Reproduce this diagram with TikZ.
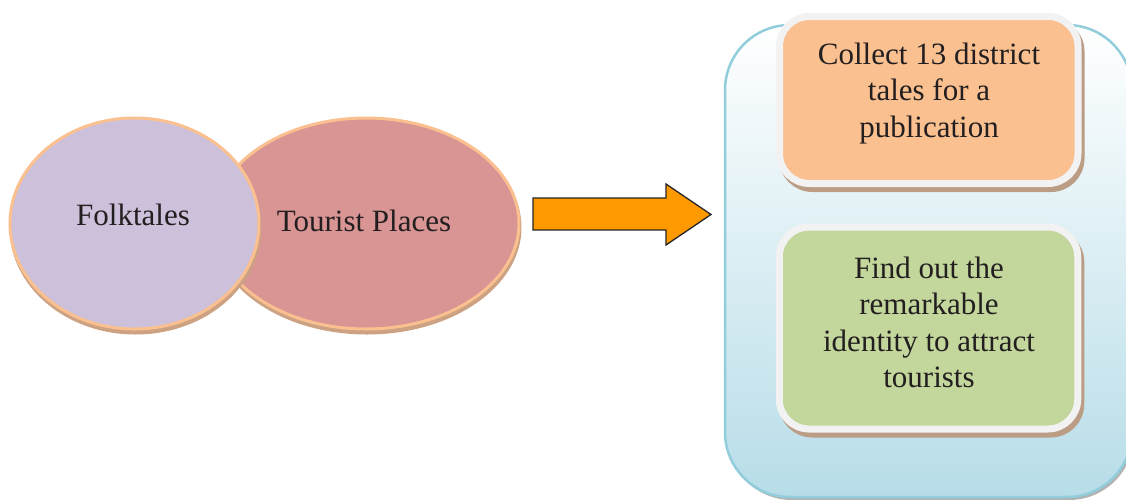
\documentclass[tikz,border=0pt]{standalone}
\usepackage{fontspec}
\setmainfont{Liberation Serif}
\usetikzlibrary{shapes.geometric,shadows}

\definecolor{lavender}{HTML}{CCC0DA}
\definecolor{rosered}{HTML}{D99594}
\definecolor{peach}{HTML}{FAC090}
\definecolor{sage}{HTML}{C3D69B}
\definecolor{rimwhite}{HTML}{F2F2F2}
\definecolor{tanshadow}{HTML}{CDA283}
\definecolor{boxshadow}{HTML}{BB9C84}
\definecolor{panelblue}{HTML}{B7DDE8}
\definecolor{panelmid}{HTML}{E4F1F5}
\definecolor{panelrim}{HTML}{92CDDC}
\definecolor{arroworange}{HTML}{FF9900}
\definecolor{inkblack}{HTML}{231F20}

\begin{document}
\begin{tikzpicture}[x=1pt,y=-1pt,
  every node/.style={inner sep=0pt, outer sep=0pt},
  label text/.style={text=inkblack, font=\fontsize{31}{36.5}\selectfont},
  venn/.style={ellipse, draw=peach, line width=3pt,
    general shadow={fill=tanshadow, draw=tanshadow, line width=3pt,
      shadow xshift=1pt, shadow yshift=-4pt}},
  taskbox/.style={rectangle, rounded corners=30pt, draw=rimwhite, line width=7pt,
    minimum width=298.5pt,
    general shadow={fill=boxshadow, draw=boxshadow, line width=7pt,
      shadow xshift=3pt, shadow yshift=-5pt}},
  panel/.style={rectangle, rounded corners=65pt, draw=panelrim, line width=2.5pt,
    top color=white, middle color=panelmid, bottom color=panelblue,
    general shadow={fill=black!30, shadow xshift=2pt, shadow yshift=-3pt}},
  blockarrow/.style={fill=arroworange, draw=black!85, line width=1.3pt, line join=miter}
]
\useasboundingbox (0,0) rectangle (1126,499);
\fill[white] (0,0) rectangle (1126,499);

% right-hand panel holding the two tasks
\node[panel, minimum width=407pt, minimum height=472pt] (panel) at (928.5,261) {};

% the two overlapping ellipses
\node[venn, fill=rosered, minimum width=306pt, minimum height=211pt] (tourist) at (366,223.5) {};
\node[venn, fill=lavender, minimum width=249pt, minimum height=211pt] (folk) at (134.5,223.5) {};
\node[label text, anchor=base] (folklbl) at (133,225) {Folktales};
\node[label text, anchor=base] (tourlbl) at (364,231) {Tourist Places};

% block arrow pointing to the panel
\draw[blockarrow] (533,198) -- (666,198) -- (666,184) -- (711,214.5)
  -- (666,245) -- (666,230) -- (533,230) -- cycle;

% task boxes
\node[taskbox, fill=peach, minimum height=167pt] (collect) at (928.75,100) {};
\node[taskbox, fill=sage, minimum height=202pt] (findout) at (928.5,328) {};
\node[label text, align=center] (collectlbl) at (929,93.2)
  {Collect 13 district\\tales for a\\publication};
\node[label text, align=center] (findlbl) at (929,322.2)
  {Find out the\\remarkable\\identity to attract\\tourists};
\end{tikzpicture}
\end{document}
